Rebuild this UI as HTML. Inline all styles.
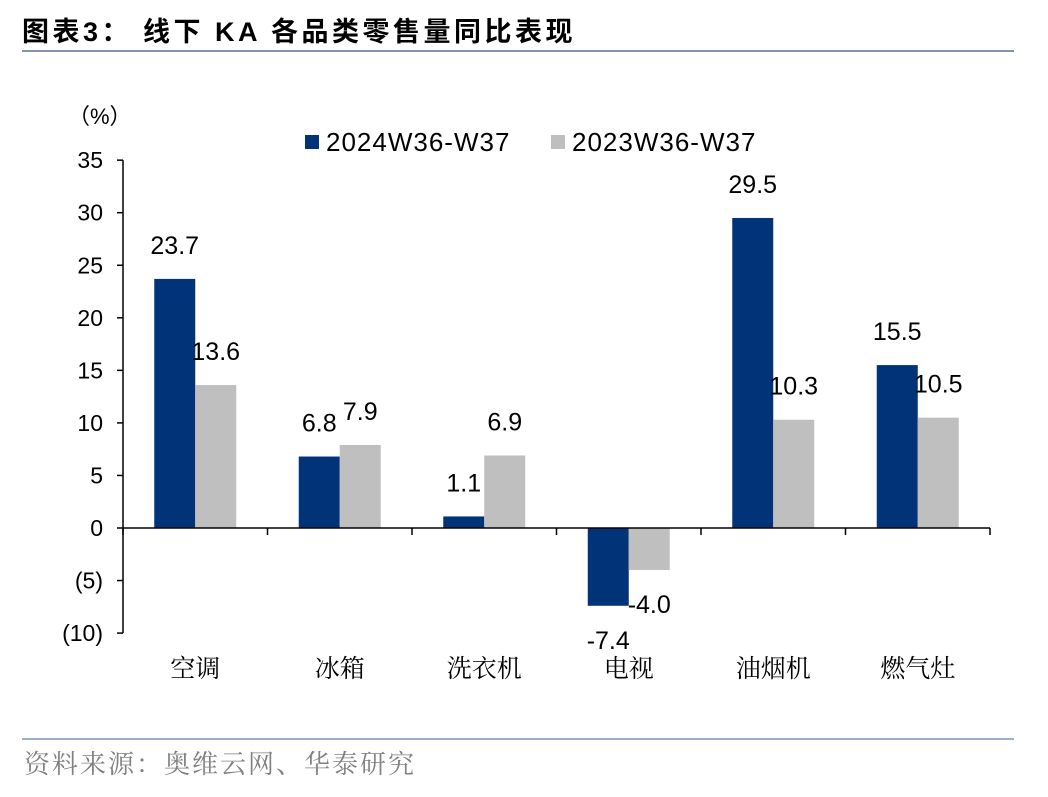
<!DOCTYPE html>
<html><head><meta charset="utf-8"><style>
body{margin:0;background:#fff;width:1048px;height:792px;overflow:hidden;font-family:"Liberation Sans","Noto Sans CJK SC",sans-serif;}
</style></head><body>
<svg width="1048" height="792" xmlns="http://www.w3.org/2000/svg">
<text x="22" y="41" font-size="27" font-weight="bold" letter-spacing="3.5" fill="#000" font-family="Liberation Sans,Noto Sans CJK SC,sans-serif">图表3：  线下 KA 各品类零售量同比表现</text>
<line x1="22" y1="51" x2="1014" y2="51" stroke="#7f93b5" stroke-width="2"/>
<text x="68" y="124" font-size="22">（%）</text>
<rect x="305" y="135" width="14" height="14" fill="#003378"/>
<text x="326" y="151" font-size="26" letter-spacing="1">2024W36-W37</text>
<rect x="551" y="135" width="14" height="14" fill="#bfbfbf"/>
<text x="572" y="151" font-size="26" letter-spacing="1">2023W36-W37</text>
<g id="plot"></g>
<line x1="22" y1="739" x2="1014" y2="739" stroke="#7f93b5" stroke-width="1.5"/>
<text x="24" y="773" font-size="26" letter-spacing="2" fill="#808080" font-family="Liberation Serif,Noto Serif CJK SC,serif">资料来源：奥维云网、华泰研究</text>
</svg>
<script>
const categories=["空调","冰箱","洗衣机","电视","油烟机","燃气灶"];
const series2024=[23.7,6.8,1.1,-7.4,29.5,15.5];
const series2023=[13.6,7.9,6.9,-4.0,10.3,10.5];
const yTicks=[35,30,25,20,15,10,5,0,-5,-10];
const yTickLabels=["35","30","25","20","15","10","5","0","(5)","(10)"];
const NS="http://www.w3.org/2000/svg";
const g=document.getElementById("plot");
const x0=123,x1=990,bw=41;
const y=v=>528-v*10.51;
const step=(x1-x0)/categories.length;
function el(t,a,txt){const e=document.createElementNS(NS,t);for(const k in a)e.setAttribute(k,a[k]);if(txt!==undefined)e.textContent=txt;g.appendChild(e);return e;}
let ax=el("line",{x1:x0,y1:y(35),x2:x0,y2:y(-10),stroke:"#000","stroke-width":1.5});


yTicks.forEach((t,i)=>{
 let l=el("line",{x1:x0-6,y1:y(t),x2:x0,y2:y(t),stroke:"#000","stroke-width":1.5});
 
 
 let tx=el("text",{x:x0-20,y:y(t)+8,"font-size":23,"text-anchor":"end"},yTickLabels[i]);
 
 
});
categories.forEach((c,i)=>{
 const cx=x0+step*(i+0.5);
 const b1=series2024[i],b2=series2023[i];
 let r1=el("rect",{x:cx-bw,y:Math.min(y(b1),y(0)),width:bw,height:Math.abs(y(b1)-y(0)),fill:"#003378"});
 
 
 let r2=el("rect",{x:cx,y:Math.min(y(b2),y(0)),width:bw,height:Math.abs(y(b2)-y(0)),fill:"#bfbfbf"});
 
 
 let l1=el("text",{x:cx-bw/2,y:b1>=0?y(b1)-25:y(b1)+43,"font-size":25,"text-anchor":"middle"},b1.toFixed(1));
 
 
 let l2=el("text",{x:cx+bw/2,y:b2>=0?y(b2)-25:y(b2)+43,"font-size":25,"text-anchor":"middle"},b2.toFixed(1));
 
 
 let cl=el("text",{x:cx,y:677,"font-size":25,"text-anchor":"middle","font-family":"Liberation Serif,Noto Serif CJK SC,serif"},c);
 
 
});
let xa=el("line",{x1:x0,y1:y(0),x2:x1,y2:y(0),stroke:"#000","stroke-width":1.5});


for(let i=0;i<=categories.length;i++){
 let t=el("line",{x1:x0+step*i,y1:y(0),x2:x0+step*i,y2:y(0)+7,stroke:"#000","stroke-width":1.5});
 
 
}
</script>
</body></html>
